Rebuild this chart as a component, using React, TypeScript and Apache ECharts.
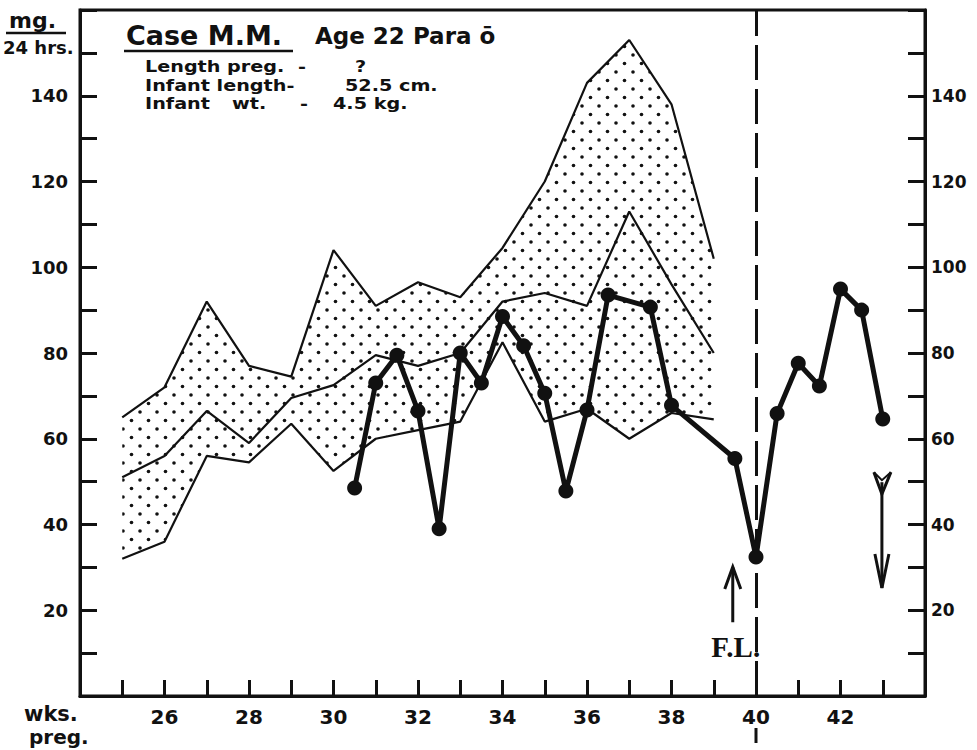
import React, { useEffect, useRef } from "react";
import * as echarts from "echarts";

// ---- data ----
const bandWeeks = [25, 26, 27, 28, 29, 30, 31, 32, 33, 34, 35, 36, 37, 38, 39];
const bandUpper = [65, 72, 92, 77, 74.5, 104, 91, 96.5, 93, 104.5, 120, 143, 153, 138, 102];
const bandMiddle = [51, 56, 66.5, 59, 69.5, 72.5, 79.5, 77, 80, 92, 94, 91, 113, 96, 80];
const bandLower = [32, 36, 56, 54.5, 63.5, 52.5, 60, 62, 64, 82.5, 64, 67, 60, 66, 64.5];

const caseWeeks = [30.5, 31, 31.5, 32, 32.5, 33, 33.5, 34, 34.5, 35, 35.5, 36, 36.5, 37.5, 38, 39.5, 40, 40.5, 41, 41.5, 42, 42.5, 43];
const caseValues = [48.5, 73, 79.5, 66.5, 39, 80, 73, 88.5, 81.7, 70.6, 47.8, 66.7, 93.5, 90.7, 67.8, 55.4, 32.4, 65.9, 77.6, 72.3, 94.9, 90, 64.6];

const xTickLabels = [26, 28, 30, 32, 34, 36, 38, 40, 42];
const yTickLabels = [20, 40, 60, 80, 100, 120, 140];

const deliveryWeek = 40;
const upArrow = { week: 39.45, from: 17.2, to: 30.1 };
const downArrow = { week: 42.98, from: 52.2, to: 25.2 };

const FONT = "'DejaVu Sans'";
const INK = "#111";

function makeDotPattern(): HTMLCanvasElement {
  const c = document.createElement("canvas");
  c.width = 17;
  c.height = 17;
  const ctx = c.getContext("2d")!;
  ctx.fillStyle = INK;
  ctx.beginPath();
  ctx.arc(4, 4, 1.8, 0, Math.PI * 2);
  ctx.fill();
  ctx.beginPath();
  ctx.arc(12.5, 12.5, 1.8, 0, Math.PI * 2);
  ctx.fill();
  return c;
}

export default function App() {
  const ref = useRef<HTMLDivElement>(null);

  useEffect(() => {
    if (!ref.current) return;
    const chart = echarts.init(ref.current, undefined, { renderer: "svg" });

    const patternCanvas = makeDotPattern();
    const pattern = {
      image: patternCanvas,
      repeat: "repeat",
      imageWidth: 17,
      imageHeight: 17,
    };

    const labelBase = {
      color: INK,
      fontFamily: FONT,
      fontWeight: "bold" as const,
    };

    const yAxisCommon = {
      type: "value" as const,
      min: 0,
      max: 160,
      interval: 10,
      splitLine: { show: false },
      axisLine: { show: true, lineStyle: { color: INK, width: 3 } },
      axisTick: { show: true, inside: true, length: 17, lineStyle: { color: INK, width: 3 } },
    };

    const option: any = {
      animation: false,
      backgroundColor: "#fff",
      grid: {
        left: 80,
        right: 52,
        top: 10,
        bottom: 54,
        show: true,
        borderColor: INK,
        borderWidth: 3,
        backgroundColor: "transparent",
      },
      xAxis: {
        type: "value",
        min: 24,
        max: 44,
        interval: 1,
        splitLine: { show: false },
        axisLine: { show: true, lineStyle: { color: INK, width: 3 } },
        axisTick: { show: true, inside: true, length: 16, lineStyle: { color: INK, width: 3 } },
        axisLabel: {
          ...labelBase,
          fontSize: 20,
          margin: 11,
          formatter: (v: number) => (xTickLabels.includes(v) ? String(v) : ""),
        },
      },
      yAxis: [
        {
          ...yAxisCommon,
          position: "left",
          axisLabel: {
            ...labelBase,
            fontSize: 18,
            margin: 12,
            formatter: (v: number) => (yTickLabels.includes(v) ? String(v) : ""),
          },
        },
        {
          ...yAxisCommon,
          position: "right",
          axisLabel: {
            ...labelBase,
            fontSize: 17,
            margin: 6,
            formatter: (v: number) => (yTickLabels.includes(v) ? String(v) : ""),
          },
        },
      ],
      series: [
        {
          name: "band",
          type: "custom",
          coordinateSystem: "cartesian2d",
          data: [[bandWeeks[0], bandLower[0]]],
          silent: true,
          z: 1,
          renderItem: (_params: any, api: any) => {
            const top = bandWeeks.map((w, i) => api.coord([w, bandUpper[i]]));
            const bottom = bandWeeks.map((w, i) => api.coord([w, bandLower[i]])).reverse();
            return {
              type: "polygon",
              shape: { points: top.concat(bottom) },
              style: { fill: pattern, stroke: "none" },
            };
          },
        },
        {
          name: "upper",
          type: "line",
          data: bandWeeks.map((w, i) => [w, bandUpper[i]]),
          symbol: "none",
          lineStyle: { color: INK, width: 2.2 },
          z: 2,
        },
        {
          name: "middle",
          type: "line",
          data: bandWeeks.map((w, i) => [w, bandMiddle[i]]),
          symbol: "none",
          lineStyle: { color: INK, width: 2.2 },
          z: 2,
        },
        {
          name: "lower",
          type: "line",
          data: bandWeeks.map((w, i) => [w, bandLower[i]]),
          symbol: "none",
          lineStyle: { color: INK, width: 2.2 },
          z: 2,
        },
        {
          name: "case",
          type: "line",
          data: caseWeeks.map((w, i) => [w, caseValues[i]]),
          symbol: "circle",
          symbolSize: 15,
          itemStyle: { color: INK },
          lineStyle: { color: INK, width: 5 },
          z: 5,
          markLine: {
            silent: true,
            symbol: ["none", "none"],
            label: { show: false },
            lineStyle: { color: INK, width: 3, type: [35, 9] },
            data: [{ xAxis: deliveryWeek }],
          },
        },
      ],
    };

    chart.setOption(option);

    const px = (x: number, y: number) => chart.convertToPixel({ gridIndex: 0 }, [x, y]) as number[];

    const up0 = px(upArrow.week, upArrow.from);
    const up1 = px(upArrow.week, upArrow.to);
    const dn0 = px(downArrow.week, downArrow.from);
    const dn1 = px(downArrow.week, downArrow.to);
    const dl = px(deliveryWeek, 0);

    const stroke = { stroke: INK, lineWidth: 3, fill: "none" };
    const txt = (x: number, y: number, text: string, size: number, extra: any = {}) => ({
      type: "text",
      x,
      y,
      scaleX: extra.sx || 1,
      style: {
        text,
        fill: INK,
        font: `bold ${size}px ${extra.family || FONT}`,
        textAlign: extra.align || "left",
        textVerticalAlign: "middle",
      },
    });

    const graphics: any[] = [
      // axis unit labels
      txt(9, 20, "mg.", 22),
      { type: "line", shape: { x1: 6, y1: 33, x2: 66, y2: 33 }, style: { stroke: INK, lineWidth: 2.5 } },
      txt(3, 47, "24 hrs.", 18),
      txt(24, 714, "wks.", 21),
      txt(29, 737, "preg.", 20),
      // header block
      txt(126, 35, "Case M.M.", 27),
      { type: "line", shape: { x1: 124, y1: 51, x2: 293, y2: 51 }, style: { stroke: INK, lineWidth: 2.5 } },
      txt(315, 36, "Age 22 Para ō", 23),
      txt(145, 67, "Length preg.", 16, { sx: 1.2 }),
      txt(298, 67, "-", 16, { sx: 1.2 }),
      txt(355, 67, "?", 16, { sx: 1.2 }),
      txt(145, 85.5, "Infant length-", 16, { sx: 1.2 }),
      txt(345, 85.5, "52.5 cm.", 16, { sx: 1.2 }),
      txt(145, 104, "Infant", 16, { sx: 1.2 }),
      txt(232, 104, "wt.", 16, { sx: 1.2 }),
      txt(300, 104, "-", 16, { sx: 1.2 }),
      txt(333, 104, "4.5 kg.", 16, { sx: 1.2 }),
      // F.L. annotation
      txt(up0[0] + 3, 647, "F.L.", 29, { align: "center", family: "'Liberation Serif'" }),
      // up arrow
      { type: "line", shape: { x1: up0[0], y1: up0[1], x2: up1[0], y2: up1[1] }, style: stroke },
      {
        type: "polyline",
        shape: { points: [[up1[0] - 8, up1[1] + 22], [up1[0], up1[1]], [up1[0] + 8, up1[1] + 22]] },
        style: stroke,
      },
      // down arrow
      { type: "line", shape: { x1: dn0[0], y1: dn0[1] + 10, x2: dn1[0], y2: dn1[1] }, style: stroke },
      {
        type: "polyline",
        shape: { points: [[dn1[0] - 7, dn1[1] - 34], [dn1[0], dn1[1]], [dn1[0] + 7, dn1[1] - 34]] },
        style: stroke,
      },
      {
        type: "polyline",
        shape: { points: [[dn0[0] - 8, dn0[1]], [dn0[0], dn0[1] + 22], [dn0[0] + 9, dn0[1]]] },
        style: stroke,
      },
      {
        type: "polyline",
        shape: { points: [[dn0[0] - 8, dn0[1]], [dn0[0], dn0[1] + 8], [dn0[0] + 9, dn0[1]]] },
        style: { stroke: INK, lineWidth: 2, fill: "none" },
      },
      // delivery line tail below axis
      { type: "line", shape: { x1: dl[0], y1: dl[1] + 32, x2: dl[0], y2: dl[1] + 47 }, style: stroke },
    ];

    chart.setOption({ graphic: graphics });

    return () => chart.dispose();
  }, []);

  return (
    <div
      ref={ref}
      style={{ position: "fixed", left: 0, top: 0, width: 977, height: 750, background: "#fff" }}
    />
  );
}
